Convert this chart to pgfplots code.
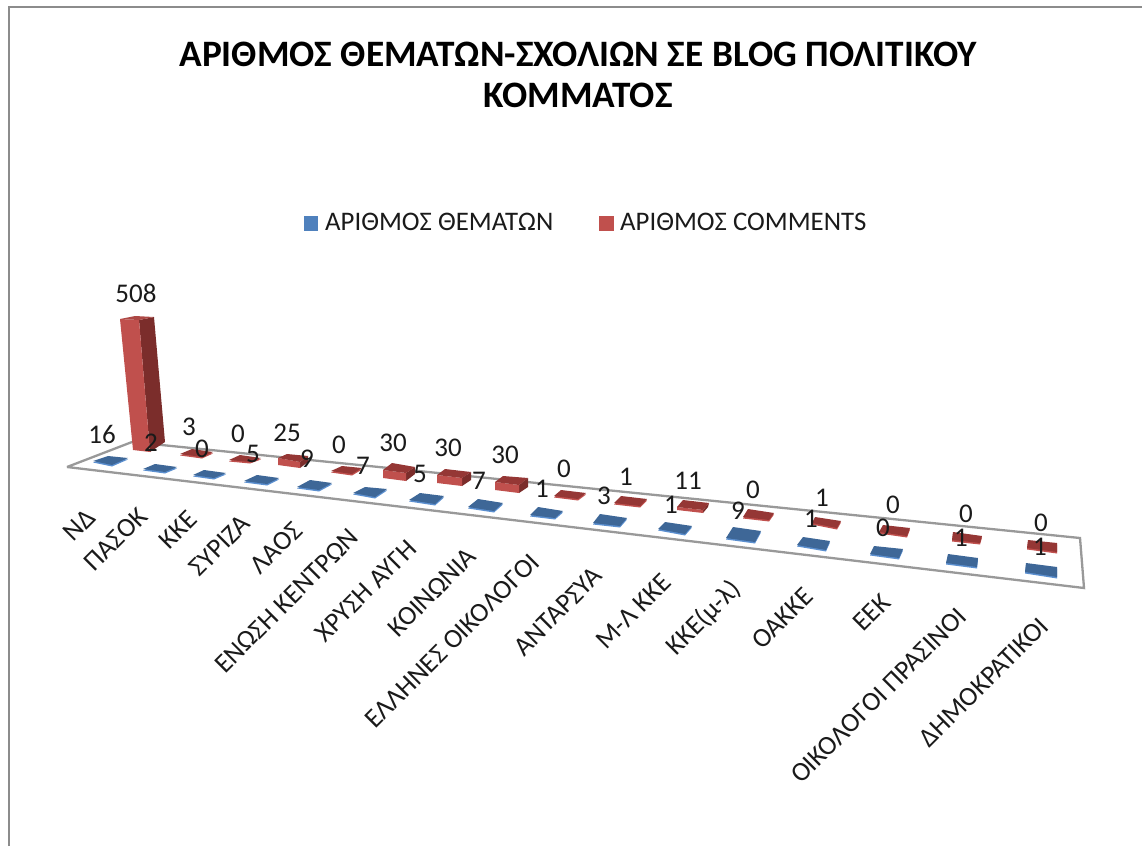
\documentclass[border=0pt]{standalone}
\usepackage{fontspec}
\setmainfont{Carlito}
\usepackage{pgfplots}
\pgfplotsset{compat=1.18}
\definecolor{bluelight}{HTML}{5B8FCF}
\definecolor{bluetop}{HTML}{3E6797}
\definecolor{redfront}{HTML}{C0504D}
\definecolor{redtop}{HTML}{953735}
\definecolor{redside}{HTML}{7B2D2B}
\definecolor{legblue}{HTML}{4F81BD}
\definecolor{framegray}{HTML}{8C8C8C}
\definecolor{floorgray}{HTML}{999999}
\definecolor{txt}{HTML}{1A1A1A}

% flat bar: a lighter edge under a darker top face
\newcommand{\flatbar}[3]{%
  \addplot[fill=#2,draw=none,yshift=-1.5pt] coordinates {#3} --cycle;
  \addplot[fill=#1,draw=none] coordinates {#3} --cycle;
}
\newcommand{\face}[2]{\addplot[fill=#1,draw=none] coordinates {#2} --cycle;}
\newcommand{\val}[2]{\node[font=\fontsize{27}{27}\selectfont,text=txt,inner sep=0pt] at (axis cs:#1) {#2};}
\newcommand{\cat}[2]{\node[font=\fontsize{27}{27}\selectfont,text=txt,rotate=45,anchor=east,inner sep=0pt] at (axis cs:#1) {#2};}

\begin{document}
\begin{tikzpicture}
\begin{axis}[
  scale only axis,
  width=1142pt,
  height=846pt,
  xmin=0, xmax=1142,
  ymin=0, ymax=846,
  y dir=reverse,
  hide axis,
  clip=false,
  every axis plot post/.append style={mark=none},
]
\path[use as bounding box] (axis cs:0,0) rectangle (axis cs:1142,846);

% outer frame
\addplot[color=framegray,line width=2.5pt] coordinates {(9,846) (9,7) (1142,7)};

% floor
\addplot[color=floorgray,line width=2.3pt] coordinates {(67,467) (132,442) (1080,538) (1084,588) (67,467)};

% blue series, ΑΡΙΘΜΟΣ ΘΕΜΑΤΩΝ
\flatbar{bluetop}{bluelight}{(93,461) (108,456) (128,458) (112,465)}
\flatbar{bluetop}{bluelight}{(143,469) (155,464) (177,467) (165,472)}
\flatbar{bluetop}{bluelight}{(193,475) (204,470) (226,473) (214,478)}
\flatbar{bluetop}{bluelight}{(244,481) (257,475) (279,478) (267,484)}
\flatbar{bluetop}{bluelight}{(297,487) (310,480) (332,483) (319,490)}
\flatbar{bluetop}{bluelight}{(353,493) (365,487) (387,489) (375,497)}
\flatbar{bluetop}{bluelight}{(409,500) (420,493) (444,496) (435,504)}
\flatbar{bluetop}{bluelight}{(468,507) (478,499) (503,503) (494,511)}
\flatbar{bluetop}{bluelight}{(530,515) (538,507) (563,511) (555,518)}
\flatbar{bluetop}{bluelight}{(593,523) (600,514) (627,518) (620,526)}
\flatbar{bluetop}{bluelight}{(658,529) (665,522) (692,526) (685,534)}
\flatbar{bluetop}{bluelight}{(726,538) (733,527) (761,531) (755,542)}
\flatbar{bluetop}{bluelight}{(797,545) (803,537) (830,541) (826,550)}
\flatbar{bluetop}{bluelight}{(870,554) (874,546) (903,549) (899,558)}
\flatbar{bluetop}{bluelight}{(946,563) (948,554) (978,558) (977,567)}
\flatbar{bluetop}{bluelight}{(1025,572) (1026,563) (1057,567) (1057,577)}

% red series, ΑΡΙΘΜΟΣ COMMENTS
% 508
\face{redside}{(139,320) (154,317) (165,442) (150,452)}
\face{redfront}{(120,319) (139,320) (150,452) (133,450)}
\face{redfront!90!black}{(120,319) (135,316) (154,317) (139,320)}
% low bars
\flatbar{redtop}{redfront}{(180,454) (192,449) (213,452) (202,457)}
\flatbar{redtop}{redfront}{(229,460) (240,455) (261,458) (250,462)}
% 25
\face{redside}{(300,462) (308,456) (308,462) (300,468)}
\face{redfront}{(278,458) (300,462) (300,468) (278,465)}
\face{redtop}{(278,458) (287,454) (308,456) (300,462)}
\flatbar{redtop}{redfront}{(331,471) (342,466) (362,468) (352,474)}
% 30
\face{redside}{(406,473) (415,467) (415,474) (406,481)}
\face{redfront}{(383,470) (406,473) (406,481) (383,478)}
\face{redtop}{(383,470) (392,463) (415,467) (406,473)}
% 30
\face{redside}{(462,478) (471,472) (471,480) (462,486)}
\face{redfront}{(437,475) (462,478) (462,486) (437,483)}
\face{redtop}{(437,475) (445,469) (471,472) (462,478)}
% 30
\face{redside}{(519,485) (528,478) (528,487) (519,493)}
\face{redfront}{(495,482) (519,485) (519,493) (495,490)}
\face{redtop}{(495,482) (503,476) (528,478) (519,485)}
\flatbar{redtop}{redfront}{(554,496) (561,490) (586,493) (578,499)}
\flatbar{redtop}{redfront}{(614,503) (621,496) (647,499) (640,506)}
% 11
\face{redside}{(703,510) (709,503) (708,507) (703,513)}
\face{redfront}{(677,507) (703,510) (703,513) (677,510)}
\face{redtop}{(677,507) (683,500) (709,503) (703,510)}
\flatbar{redtop}{redfront}{(743,517) (748,509) (774,513) (769,520)}
\flatbar{redtop}{redfront}{(812,523) (815,517) (841,521) (837,528)}
\flatbar{redtop}{redfront}{(879,532) (883,525) (910,528) (907,536)}
\flatbar{redtop}{redfront}{(952,540) (953,532) (982,536) (980,543)}
\flatbar{redtop}{redfront}{(1027,548) (1028,540) (1057,543) (1057,552)}

% data labels, blue series
\val{102,434}{16}
\val{151,443}{2}
\val{202,449}{0}
\val{253,454}{5}
\val{307,459}{9}
\val{363,466}{7}
\val{420,474}{5}
\val{479,481}{7}
\val{542,489}{1}
\val{604,496}{3}
\val{671,505}{1}
\val{738,511}{9}
\val{811,519}{1}
\val{883,528}{0}
\val{961,538}{1}
\val{1040,547}{1}

% data labels, red series
\val{136,293}{508}
\val{189,427}{3}
\val{238,434}{0}
\val{287,433}{25}
\val{339,445}{0}
\val{393,443}{30}
\val{448,448}{30}
\val{505,455}{30}
\val{564,469}{0}
\val{626,477}{1}
\val{688,481}{11}
\val{753,490}{0}
\val{822,498}{1}
\val{893,505}{0}
\val{966,514}{0}
\val{1041,523}{0}

% categories
\cat{91,513}{ΝΔ}
\cat{143,512}{ΠΑΣΟΚ}
\cat{193,515}{ΚΚΕ}
\cat{246,519}{ΣΥΡΙΖΑ}
\cat{298,526}{ΛΑΟΣ}
\cat{354,533}{ΕΝΩΣΗ ΚΕΝΤΡΩΝ}
\cat{412,544}{ΧΡΥΣΗ ΑΥΓΗ}
\cat{472,552}{ΚΟΙΝΩΝΙΑ}
\cat{535,558}{ΕΛΛΗΝΕΣ ΟΙΚΟΛΟΓΟΙ}
\cat{598,571}{ΑΝΤΑΡΣΥΑ}
\cat{667,578}{Μ-Λ ΚΚΕ}
\cat{737,585}{ΚΚΕ(μ-λ)}
\cat{809,592}{ΟΑΚΚΕ}
\cat{886,598}{ΕΕΚ}
\cat{962,612}{ΟΙΚΟΛΟΓΟΙ ΠΡΑΣΙΝΟΙ}
\cat{1044,622}{ΔΗΜΟΚΡΑΤΙΚΟΙ}

% legend
\face{legblue}{(304,216) (318,216) (318,231) (304,231)}
\node[font=\fontsize{26.8}{27}\selectfont,text=txt,anchor=west,inner sep=0pt] at (axis cs:325,222) {ΑΡΙΘΜΟΣ ΘΕΜΑΤΩΝ};
\face{redfront}{(599,216) (614,216) (614,231) (599,231)}
\node[font=\fontsize{26.8}{27}\selectfont,text=txt,anchor=west,inner sep=0pt] at (axis cs:620,222) {ΑΡΙΘΜΟΣ COMMENTS};

% title
\node[font=\fontsize{37.3}{37}\bfseries\selectfont,text=black,inner sep=0pt] at (axis cs:578,54) {ΑΡΙΘΜΟΣ ΘΕΜΑΤΩΝ-ΣΧΟΛΙΩΝ ΣΕ BLOG ΠΟΛΙΤΙΚΟΥ};
\node[font=\fontsize{37.3}{37}\bfseries\selectfont,text=black,inner sep=0pt] at (axis cs:578,95) {ΚΟΜΜΑΤΟΣ};
\end{axis}
\end{tikzpicture}
\end{document}
